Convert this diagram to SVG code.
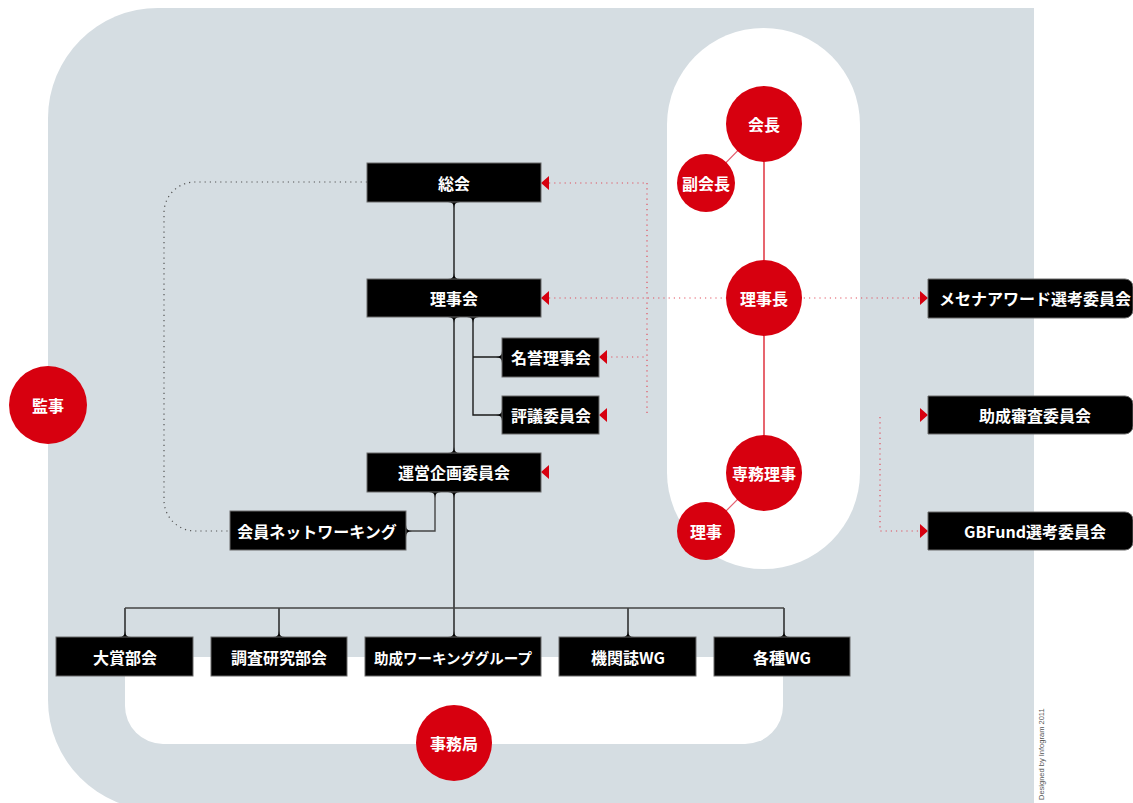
<svg xmlns="http://www.w3.org/2000/svg" width="1133" height="803" viewBox="0 0 1133 803">
<defs>
<style>
.box{fill:#000;stroke:#6b6b6b;stroke-width:1}
.bt{fill:#fff;font-family:"Noto Sans CJK JP","Noto Sans",sans-serif;font-size:16px;font-weight:bold;text-anchor:middle;dominant-baseline:central}
.circ{fill:#D7000F}
.ct{fill:#fff;font-family:"Noto Sans CJK JP","Noto Sans",sans-serif;font-size:16px;font-weight:bold;text-anchor:middle;dominant-baseline:central}
.ln{fill:none;stroke:#1a1a1a;stroke-width:1.4}
.bus{fill:none;stroke:#444;stroke-width:1.4}
.gdot{fill:none;stroke:#555;stroke-width:1.2;stroke-dasharray:1.2 4}
.rdot{fill:none;stroke:#E0505F;stroke-width:1.2;stroke-dasharray:1.2 4}
.rln{fill:none;stroke:#D7000F;stroke-width:1.2}
.rln2{fill:none;stroke:#E46070;stroke-width:1.2}
.cusp{fill:#000}
.arr{fill:#D7000F}
</style>
</defs>

<!-- background -->
<path d="M158,8 H1034 V810 H158 A110,110 0 0 1 48,700 V118 A110,110 0 0 1 158,8 Z" fill="#D5DDE2"/>
<rect x="667" y="28" width="193" height="541" rx="96.5" ry="96.5" fill="#fff"/>
<path d="M125,657 H783 V706 A38,38 0 0 1 745,744 H163 A38,38 0 0 1 125,706 Z" fill="#fff"/>

<!-- connectors -->
<g id="connectors">
  <path class="gdot" d="M367,182 H195 A31,31 0 0 0 164,213 V500 A31,31 0 0 0 195,531 H230"/>
  <path class="rdot" d="M549,183 H647 M647,183 V414 M606,357 H647 M549,298 H921 M880,417 V531 H921"/>
  <path class="rln" d="M764,162 V260 M764,336 V435"/>
  <path class="rln2" d="M764,124 L706,183 M764,473 L706,531"/>
  <path class="ln" d="M454,202 V279 M454,317 V453 M473,317 V415 H502 M473,357 H502 M454,492 V637 M125,608 V637 M279,608 V637 M628,608 V637 M784,608 V637"/>
  <path class="bus" d="M125,608 H784 M435,492 V531 H406"/>
  <!-- cusps -->
  <path class="cusp" d="M448,202 Q454,202 454,208 Q454,202 460,202 Z M448,279 Q454,279 454,273 Q454,279 460,279 Z M448,317 Q454,317 454,323 Q454,317 460,317 Z M467,317 Q473,317 473,323 Q473,317 479,317 Z M502,351 Q502,357 496,357 Q502,357 502,363 Z M502,409 Q502,415 496,415 Q502,415 502,421 Z M448,453 Q454,453 454,447 Q454,453 460,453 Z M448,492 Q454,492 454,498 Q454,492 460,492 Z M429,492 Q435,492 435,498 Q435,492 441,492 Z M406,525 Q406,531 412,531 Q406,531 406,537 Z M119,637 Q125,637 125,631 Q125,637 131,637 Z M273,637 Q279,637 279,631 Q279,637 285,637 Z M448,637 Q454,637 454,631 Q454,637 460,637 Z M622,637 Q628,637 628,631 Q628,637 634,637 Z M778,637 Q784,637 784,631 Q784,637 790,637 Z"/>
  <!-- arrowheads -->
  <path class="arr" d="M541,183 L549,176 L549,190 Z M541,298 L549,291 L549,305 Z M599,357 L607,350 L607,364 Z M599,415 L607,408 L607,422 Z M541,472 L549,465 L549,479 Z M928,298 L920,291 L920,305 Z M928,415 L920,408 L920,422 Z M928,531 L920,524 L920,538 Z"/>
</g>

<!-- nodes -->
<g id="soukai"><rect class="box" x="367" y="163" width="174" height="39"/><text class="bt" x="454" y="183">総会</text></g>
<g id="rijikai"><rect class="box" x="367" y="279" width="174" height="38"/><text class="bt" x="454" y="298">理事会</text></g>
<g id="meiyo"><rect class="box" x="502" y="338" width="97" height="39"/><text class="bt" x="551" y="357">名誉理事会</text></g>
<g id="hyogi"><rect class="box" x="502" y="396" width="97" height="38"/><text class="bt" x="551" y="415">評議委員会</text></g>
<g id="unei"><rect class="box" x="367" y="453" width="174" height="39"/><text class="bt" x="454" y="472">運営企画委員会</text></g>
<g id="network"><rect class="box" x="230" y="511" width="176" height="39"/><text class="bt" x="317" y="531">会員ネットワーキング</text></g>
<g id="taisho"><rect class="box" x="56" y="637" width="137" height="39"/><text class="bt" x="125" y="657">大賞部会</text></g>
<g id="chosa"><rect class="box" x="211" y="637" width="136" height="39"/><text class="bt" x="279" y="657">調査研究部会</text></g>
<g id="josei-wg"><rect class="box" x="365" y="637" width="176" height="39"/><text class="bt" x="453" y="657" style="font-size:14.5px">助成ワーキンググループ</text></g>
<g id="kikanshi"><rect class="box" x="559" y="637" width="137" height="39"/><text class="bt" x="628" y="657">機関誌WG</text></g>
<g id="kakushu"><rect class="box" x="714" y="637" width="136" height="39"/><text class="bt" x="782" y="657">各種WG</text></g>

<g id="mecenat"><path class="box" d="M928,279 H1125 A8,8 0 0 1 1133,287 V310 A8,8 0 0 1 1125,318 H928 Z"/><text class="bt" x="1035" y="298">メセナアワード選考委員会</text></g>
<g id="josei-shinsa"><path class="box" d="M928,396 H1125 A8,8 0 0 1 1133,404 V426 A8,8 0 0 1 1125,434 H928 Z"/><text class="bt" x="1035" y="415">助成審査委員会</text></g>
<g id="gbfund"><path class="box" d="M928,512 H1125 A8,8 0 0 1 1133,520 V542 A8,8 0 0 1 1125,550 H928 Z"/><text class="bt" x="1035" y="531">GBFund選考委員会</text></g>

<g id="kaicho"><circle class="circ" cx="764" cy="124" r="38"/><text class="ct" x="764" y="124">会長</text></g>
<g id="fukukaicho"><circle class="circ" cx="706" cy="183" r="29"/><text class="ct" x="706" y="183">副会長</text></g>
<g id="rijicho"><circle class="circ" cx="764" cy="298" r="38"/><text class="ct" x="764" y="298">理事長</text></g>
<g id="senmu"><circle class="circ" cx="764" cy="473" r="38"/><text class="ct" x="764" y="473">専務理事</text></g>
<g id="riji"><circle class="circ" cx="706" cy="531" r="29"/><text class="ct" x="706" y="531">理事</text></g>
<g id="kanji"><circle class="circ" cx="48" cy="405" r="39"/><text class="ct" x="48" y="405">監事</text></g>
<g id="jimukyoku"><circle class="circ" cx="454" cy="743" r="38"/><text class="ct" x="454" y="743">事務局</text></g>

<text x="1044" y="800" transform="rotate(-90 1044 800)" font-family="'Liberation Sans',sans-serif" font-size="7.5" fill="#555">Designed by Infogram 2011</text>
</svg>
